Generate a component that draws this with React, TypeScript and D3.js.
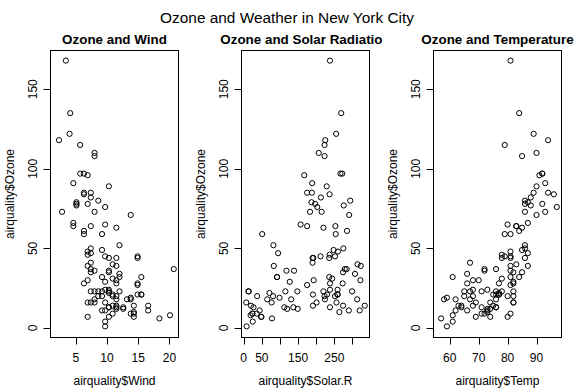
import React, { useEffect, useRef } from 'react';
import * as d3 from 'd3';

// airquality (R datasets), null = NA
const ozone: (number | null)[] = [41,36,12,18,null,28,23,19,8,null,7,16,11,14,18,14,34,6,30,11,1,11,4,32,null,null,null,23,45,115,37,null,null,null,null,null,null,29,null,71,39,null,null,23,null,null,21,37,20,12,13,null,null,null,null,null,null,null,null,null,null,135,49,32,null,64,40,77,97,97,85,null,10,27,null,7,48,35,61,79,63,16,null,null,80,108,20,52,82,50,64,59,39,9,16,78,35,66,122,89,110,null,null,44,28,65,null,22,59,23,31,44,21,9,null,45,168,73,null,76,118,84,85,96,78,73,91,47,32,20,23,21,24,44,21,28,9,13,46,18,13,24,16,13,23,36,7,14,30,null,14,18,20];
const solarR: (number | null)[] = [190,118,149,313,null,null,299,99,19,194,null,256,290,274,65,334,307,78,322,44,8,320,25,92,66,266,null,13,252,223,279,286,287,242,186,220,264,127,273,291,323,259,250,148,332,322,191,284,37,120,137,150,59,91,250,135,127,47,98,31,138,269,248,236,101,175,314,276,267,272,175,139,264,175,291,48,260,274,285,187,220,7,258,295,294,223,81,82,213,275,253,254,83,24,77,null,null,null,255,229,207,222,137,192,273,157,64,71,51,115,244,190,259,36,255,212,238,215,153,203,225,237,188,167,197,183,189,95,92,252,220,230,259,236,259,238,24,112,237,224,27,238,201,238,14,139,49,20,193,145,191,131,223];
const wind: number[] = [7.4,8.0,12.6,11.5,14.3,14.9,8.6,13.8,20.1,8.6,6.9,9.7,9.2,10.9,13.2,11.5,12.0,18.4,11.5,9.7,9.7,16.6,9.7,12.0,16.6,14.9,8.0,12.0,14.9,5.7,7.4,8.6,9.7,16.1,9.2,8.6,14.3,9.7,6.9,13.8,11.5,10.9,9.2,8.0,13.8,11.5,14.9,20.7,9.2,11.5,10.3,6.3,1.7,4.6,6.3,8.0,8.0,10.3,11.5,14.9,8.0,4.1,9.2,9.2,10.9,4.6,10.9,5.1,6.3,5.7,7.4,8.6,14.3,14.9,14.9,14.3,6.9,10.3,6.3,5.1,11.5,6.9,9.7,11.5,8.6,8.0,8.6,12.0,7.4,7.4,7.4,9.2,6.9,13.8,7.4,6.9,7.4,4.6,4.0,10.3,8.0,8.6,11.5,11.5,11.5,9.7,11.5,10.3,6.3,7.4,10.9,10.3,15.5,14.3,12.6,9.7,3.4,8.0,5.7,9.7,2.3,6.3,6.3,6.9,5.1,2.8,4.6,7.4,15.5,10.9,10.3,10.9,9.7,14.9,15.5,6.3,10.9,11.5,6.9,13.8,10.3,10.3,8.0,12.6,9.2,10.3,10.3,16.6,6.9,13.2,14.3,8.0,11.5];
const temp: number[] = [67,72,74,62,56,66,65,59,61,69,74,69,66,68,58,64,66,57,68,62,59,73,61,61,57,58,57,67,81,79,76,78,74,67,84,85,79,82,87,90,87,93,92,82,80,79,77,72,65,73,76,77,76,76,76,75,78,73,80,77,83,84,85,81,84,83,83,88,92,92,89,82,73,81,91,80,81,82,84,87,85,74,81,82,86,85,82,86,88,86,83,81,81,81,82,86,85,87,89,90,90,92,86,86,82,80,79,77,79,76,78,78,77,72,75,79,81,86,88,97,94,96,94,91,92,93,93,87,84,80,78,75,73,81,76,77,71,71,78,67,76,68,82,64,71,81,69,63,70,77,75,76,68];

const mainTitle = 'Ozone and Weather in New York City';
const panelTitles = ['Ozone and Wind', 'Ozone and Solar Radiation', 'Ozone and Temperature'];
const xLabels = ['airquality$Wind', 'airquality$Solar.R', 'airquality$Temp'];
const yLabel = 'airquality$Ozone';
const xTicks = [[5, 10, 15, 20], [0, 50, 100, 150, 200, 250, 300], [60, 70, 80, 90]];
const xTickLabels = [[5, 10, 15, 20], [0, 50, 150, 250], [60, 70, 80, 90]];
const yTicks = [0, 50, 100, 150];

const W = 574;
const H = 388;
const FONT = '"Liberation Sans", Arial, sans-serif';

// R-style 4% padded range of finite values
const rRange = (vals: (number | null)[]) => {
  const fin = vals.filter((v): v is number => v != null);
  const [lo, hi] = d3.extent(fin) as [number, number];
  const pad = (hi - lo) * 0.04;
  return [lo - pad, hi + pad];
};

export default function App() {
  const svgRef = useRef<SVGSVGElement>(null);

  useEffect(() => {
    if (!svgRef.current) return;
    const svg = d3.select(svgRef.current);
    svg.selectAll('*').remove();

    svg.append('rect').attr('width', W).attr('height', H).attr('fill', '#fff');

    svg.append('text')
      .attr('x', W / 2)
      .attr('y', 23)
      .attr('text-anchor', 'middle')
      .attr('font-size', '15.4px')
      .attr('fill', '#000')
      .text(mainTitle);

    const colW = W / 3;
    const xVars = [wind, solarR, temp];
    const yScale = d3.scaleLinear().domain(rRange(ozone)).range([337, 50]);

    xVars.forEach((xv, i) => {
      const off = i * colW;
      const left = Math.round(off + 50) + 0.5;
      const right = Math.round(off + 178) + 0.5;
      const top = 50.5;
      const bottom = 337.5;
      const xScale = d3.scaleLinear().domain(rRange(xv)).range([left, right]);

      const clipId = `clip-col-${i}`;
      svg.append('clipPath').attr('id', clipId)
        .append('rect').attr('x', off).attr('y', 0).attr('width', colW).attr('height', H);

      const g = svg.append('g');

      // panel title
      g.append('text')
        .attr('clip-path', `url(#${clipId})`)
        .attr('x', (left + right) / 2)
        .attr('y', 44)
        .attr('text-anchor', 'middle')
        .attr('font-size', '13.4px')
        .attr('font-weight', 'bold')
        .text(panelTitles[i]);

      // box
      g.append('rect')
        .attr('x', left).attr('y', top)
        .attr('width', right - left).attr('height', bottom - top)
        .attr('fill', 'none').attr('stroke', '#000').attr('stroke-width', 1);

      // x axis
      const xt = xTicks[i];
      g.append('line')
        .attr('x1', Math.round(xScale(xt[0])) + 0.5).attr('x2', Math.round(xScale(xt[xt.length - 1])) + 0.5)
        .attr('y1', bottom).attr('y2', bottom)
        .attr('stroke', '#000');
      xt.forEach(t => {
        const x = Math.round(xScale(t)) + 0.5;
        g.append('line').attr('x1', x).attr('x2', x).attr('y1', bottom).attr('y2', bottom + 7).attr('stroke', '#000');
      });
      xTickLabels[i].forEach(t => {
        g.append('text')
          .attr('x', xScale(t)).attr('y', 362)
          .attr('text-anchor', 'middle').attr('font-size', '12px')
          .text(String(t));
      });
      g.append('text')
        .attr('x', (left + right) / 2).attr('y', 385)
        .attr('text-anchor', 'middle').attr('font-size', '12px')
        .text(xLabels[i]);

      // y axis
      yTicks.forEach(t => {
        const y = Math.round(yScale(t)) + 0.5;
        g.append('line').attr('x1', left - 7).attr('x2', left).attr('y1', y).attr('y2', y).attr('stroke', '#000');
        g.append('text')
          .attr('transform', `translate(${left - 14},${yScale(t)}) rotate(-90)`)
          .attr('text-anchor', 'middle').attr('font-size', '12px')
          .text(String(t));
      });
      g.append('text')
        .attr('transform', `translate(${left - 37},${(top + bottom) / 2}) rotate(-90)`)
        .attr('text-anchor', 'middle').attr('font-size', '12px')
        .text(yLabel);

      // points
      const pts = ozone
        .map((o, k) => ({ x: xv[k], y: o }))
        .filter(d => d.x != null && d.y != null);
      g.selectAll('circle.pt').data(pts).enter()
        .append('circle')
        .attr('class', 'pt')
        .attr('cx', d => xScale(d.x as number))
        .attr('cy', d => yScale(d.y as number))
        .attr('r', 2.6)
        .attr('fill', 'none')
        .attr('stroke', '#000')
        .attr('stroke-width', 1);
    });
  }, []);

  return (
    <svg
      ref={svgRef}
      width={W}
      height={H}
      style={{ position: 'absolute', left: 0, top: 0, fontFamily: FONT }}
    />
  );
}
